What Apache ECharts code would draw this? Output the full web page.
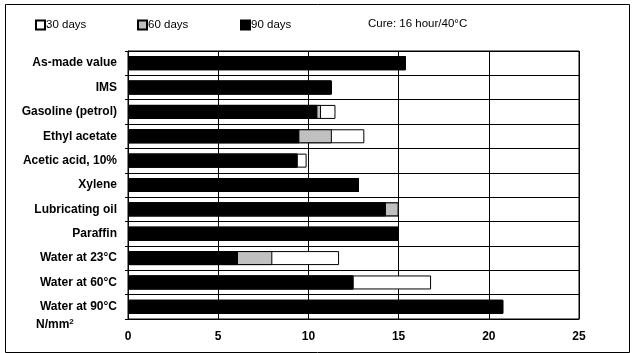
<!DOCTYPE html>
<html>
<head>
<meta charset="utf-8">
<script src="https://cdn.jsdelivr.net/npm/echarts@6/dist/echarts.min.js"></script>
<style>
  html, body { margin: 0; padding: 0; background: #fff; }
  #chart { width: 632px; height: 353px; }
</style>
</head>
<body>
<div id="chart"></div>
<script>
// categories top to bottom
const categories = [
  'As-made value', 'IMS', 'Gasoline (petrol)', 'Ethyl acetate', 'Acetic acid, 10%',
  'Xylene', 'Lubricating oil', 'Paraffin', 'Water at 23°C', 'Water at 60°C', 'Water at 90°C'
]
const days30 = [15.4, 11.3, 11.5, 13.1, 9.9, 12.8, 15.0, 15.0, 11.7, 16.8, 20.8]
const days60 = [15.4, 11.3, 10.7, 11.3, 9.4, 12.8, 15.0, 15.0, 8.0, 12.5, 20.8]
const days90 = [15.4, 11.3, 10.5, 9.5, 9.4, 12.8, 14.3, 15.0, 6.1, 12.5, 20.8]
const xTicks = [0, 5, 10, 15, 20, 25]

const font = '"Liberation Sans", Arial, sans-serif'
const chart = echarts.init(document.getElementById('chart'), null, { renderer: 'canvas' })

function legendAt(name, left) {
  return {
    data: [name],
    left: left,
    top: 19,
    icon: 'rect',
    itemWidth: 9,
    itemHeight: 9,
    itemGap: 0,
    padding: 0,
    selectedMode: false,
    textStyle: { fontFamily: font, fontSize: 11.5, color: '#000', padding: [0, 0, 0, -4] }
  }
}

const option = {
  animation: false,
  backgroundColor: '#fff',
  textStyle: { fontFamily: font },
  legend: [legendAt('30 days', 35), legendAt('60 days', 137), legendAt('90 days', 240)],
  grid: {
    left: 128, right: 53, top: 51, bottom: 34,
    show: true, borderColor: '#000', borderWidth: 1
  },
  xAxis: {
    type: 'value',
    min: xTicks[0], max: xTicks[xTicks.length - 1], interval: 5,
    axisLine: { show: true, lineStyle: { color: '#000' } },
    axisTick: { show: false },
    axisLabel: { color: '#000', fontWeight: 'bold', fontSize: 12, margin: 12, fontFamily: font },
    splitLine: { show: true, lineStyle: { color: '#000', width: 1 } }
  },
  yAxis: {
    type: 'category',
    data: categories,
    inverse: true,
    axisLine: { show: true, lineStyle: { color: '#000' } },
    axisTick: { show: true, length: 3, lineStyle: { color: '#000' } },
    axisLabel: { color: '#000', fontWeight: 'bold', fontSize: 12, margin: 11, fontFamily: font },
    splitLine: { show: true, lineStyle: { color: '#000', width: 1 } }
  },
  series: [
    {
      name: '30 days', type: 'bar', data: days30, barWidth: 14, barGap: '-100%',
      itemStyle: { color: '#fff', borderColor: '#000', borderWidth: 1 }
    },
    {
      name: '60 days', type: 'bar', data: days60, barWidth: 14, barGap: '-100%',
      itemStyle: { color: '#c0c0c0', borderColor: '#000', borderWidth: 1 }
    },
    {
      name: '90 days', type: 'bar', data: days90, barWidth: 14, barGap: '-100%',
      itemStyle: { color: '#000', borderColor: '#000', borderWidth: 1 }
    }
  ],
  graphic: [
    {
      type: 'rect', left: 3, top: 2, silent: true,
      shape: { width: 624, height: 348 },
      style: { fill: 'none', stroke: '#000', lineWidth: 1 }
    },
    {
      type: 'text', left: 368, top: 18,
      style: { text: 'Cure: 16 hour/40°C', font: '11.5px ' + font, fill: '#000' }
    },
    {
      type: 'text', left: 36, top: 318,
      style: {
        text: '{a|N/mm}{b|2}',
        rich: {
          a: { font: 'bold 12px ' + font, fill: '#000' },
          b: { font: 'bold 8px ' + font, fill: '#000', verticalAlign: 'top', padding: [0, 0, 6, 0] }
        }
      }
    }
  ]
}
chart.setOption(option)
</script>
</body>
</html>
